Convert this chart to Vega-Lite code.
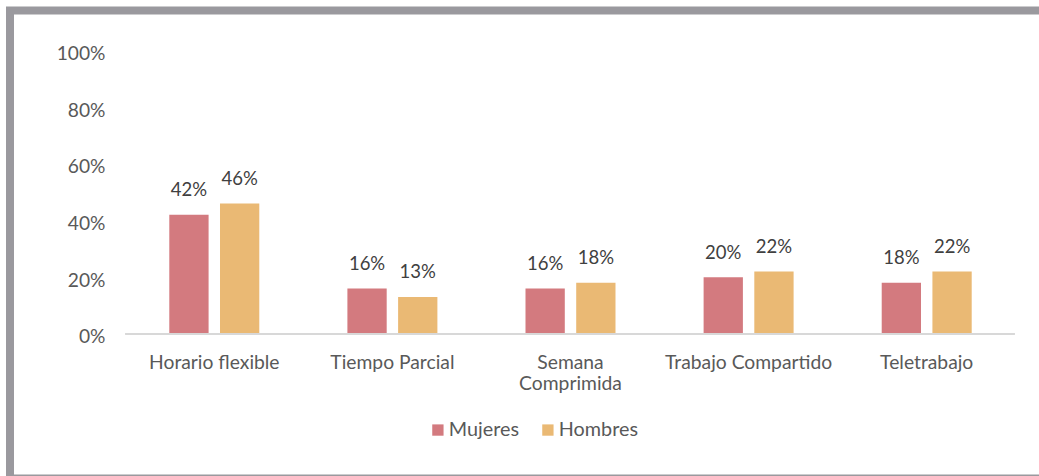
{
  "$schema": "https://vega.github.io/schema/vega-lite/v6.json",
  "autosize": {"type": "none"},
  "padding": {"left": 10, "top": 10.5, "right": -10, "bottom": -2.5},
  "width": 1039,
  "height": 468,
  "background": "white",
  "config": {
    "font": "Lato",
    "view": {"stroke": "#9a999e", "strokeWidth": 8}
  },
  "data": {
    "values": [
      {"categoria": "Horario flexible", "sexo": "Mujeres", "valor": 0.42},
      {"categoria": "Horario flexible", "sexo": "Hombres", "valor": 0.46},
      {"categoria": "Tiempo Parcial", "sexo": "Mujeres", "valor": 0.16},
      {"categoria": "Tiempo Parcial", "sexo": "Hombres", "valor": 0.13},
      {"categoria": "Semana Comprimida", "sexo": "Mujeres", "valor": 0.16},
      {"categoria": "Semana Comprimida", "sexo": "Hombres", "valor": 0.18},
      {"categoria": "Trabajo Compartido", "sexo": "Mujeres", "valor": 0.20},
      {"categoria": "Trabajo Compartido", "sexo": "Hombres", "valor": 0.22},
      {"categoria": "Teletrabajo", "sexo": "Mujeres", "valor": 0.18},
      {"categoria": "Teletrabajo", "sexo": "Hombres", "valor": 0.22}
    ]
  },
  "encoding": {
    "x": {
      "field": "categoria",
      "type": "nominal",
      "sort": null,
      "scale": {"paddingInner": 0.4947, "paddingOuter": 0.6642, "align": 0.6733},
      "axis": {
        "title": null,
        "orient": "bottom",
        "offset": -144.7,
        "domain": false,
        "ticks": false,
        "tickSize": 0,
        "labelAngle": 0,
        "labelPadding": 20,
        "labelFontSize": 19.3,
        "labelColor": "#595959",
        "labelLineHeight": 21,
        "labelExpr": "datum.label == 'Semana Comprimida' ? ['Semana', 'Comprimida'] : datum.label"
      }
    },
    "y": {
      "field": "valor",
      "type": "quantitative",
      "stack": null,
      "scale": {"domain": [-0.5108, 1.1412], "nice": false, "zero": false},
      "axis": {
        "title": null,
        "values": [0, 0.2, 0.4, 0.6, 0.8, 1],
        "format": ".0%",
        "offset": -95,
        "domain": false,
        "ticks": false,
        "tickSize": 0,
        "grid": false,
        "labelPadding": 0,
        "labelOffset": 3,
        "labelFontSize": 19.2,
        "labelColor": "#595959"
      }
    },
    "xOffset": {
      "field": "sexo",
      "sort": ["Mujeres", "Hombres"],
      "scale": {"paddingInner": 0.225, "paddingOuter": 0}
    }
  },
  "layer": [
    {
      "mark": {"type": "bar"},
      "encoding": {
        "color": {
          "field": "sexo",
          "type": "nominal",
          "sort": ["Mujeres", "Hombres"],
          "scale": {"domain": ["Mujeres", "Hombres"], "range": ["#d37a7f", "#eab974"]},
          "legend": {
            "title": null,
            "orient": "none",
            "legendX": 418,
            "legendY": 409.5,
            "direction": "horizontal",
            "symbolType": "square",
            "symbolSize": 128,
            "symbolStrokeWidth": 0,
            "labelFontSize": 19.8,
            "labelColor": "#595959",
            "labelOffset": 1,
            "columnPadding": 18,
            "padding": 0
          }
        }
      }
    },
    {
      "mark": {"type": "text", "baseline": "alphabetic", "dy": -18.5, "fontSize": 18.5, "color": "#404040"},
      "encoding": {
        "text": {"field": "valor", "type": "quantitative", "format": ".0%"}
      }
    },
    {
      "mark": {"type": "rule", "color": "#d9d9d9", "strokeWidth": 1},
      "encoding": {
        "x": {"datum": "Horario flexible", "bandPosition": -0.492},
        "x2": {"datum": "Teletrabajo", "bandPosition": 1.481},
        "y": {"datum": 0},
        "xOffset": null
      }
    }
  ]
}
